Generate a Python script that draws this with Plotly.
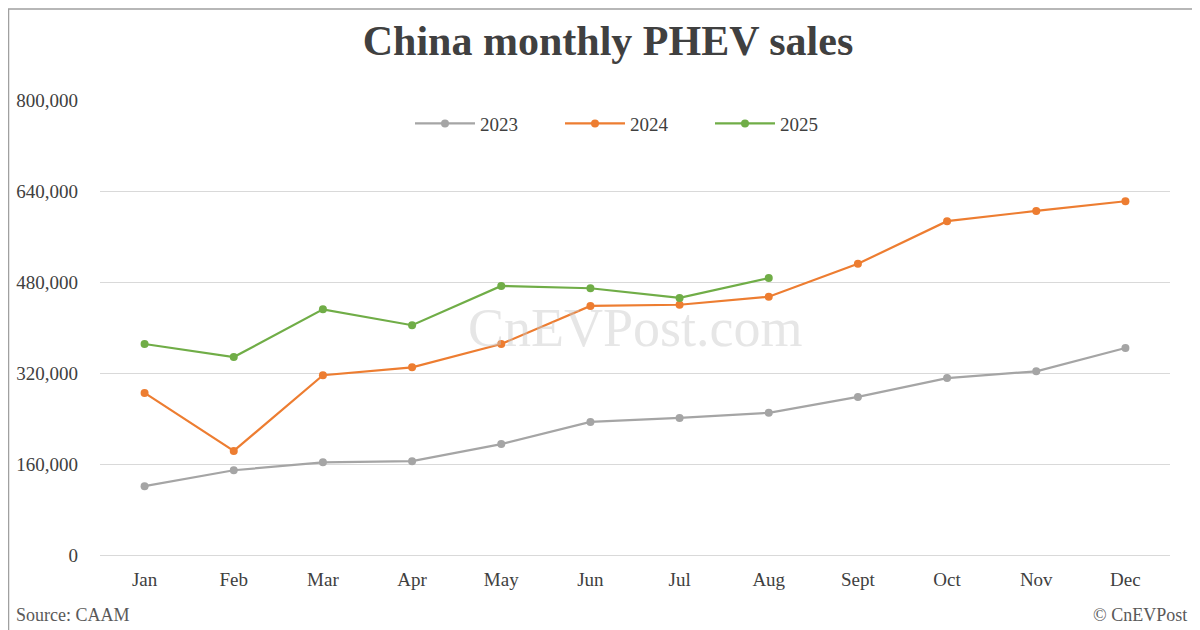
import plotly.graph_objects as go

months = ["Jan","Feb","Mar","Apr","May","Jun","Jul","Aug","Sept","Oct","Nov","Dec"]
s2023 = [121000,149000,163000,165000,195000,234000,241000,250000,278000,311000,323000,364000]
s2024 = [285000,183000,316000,330000,371000,438000,440000,454000,512000,587000,605000,622000]
s2025 = [371000,348000,432000,404000,473000,469000,452000,487000]
tickvals = [0,160000,320000,480000,640000,800000]

fig = go.Figure()
for name, vals, col in [("2023", s2023, "#a5a5a5"), ("2024", s2024, "#ed7d31"), ("2025", s2025, "#70ad47")]:
    fig.add_trace(go.Scatter(x=months[:len(vals)], y=vals, name=name, mode="lines+markers",
                             line=dict(color=col, width=2.2), marker=dict(size=8, color=col)))

fig.update_layout(
    width=1200, height=630, paper_bgcolor="white", plot_bgcolor="white",
    margin=dict(l=92, r=38, t=92, b=83, autoexpand=False),
    font=dict(family="Liberation Serif", size=19, color="#404040"),
    title=dict(text="<b>China monthly PHEV sales</b>", x=0.5, xanchor="center", y=0.949, yanchor="middle",
               font=dict(size=42, color="#404040")),
    legend=dict(orientation="h", x=0.5, xanchor="center", y=0.99, yanchor="top",
                font=dict(size=19), entrywidth=75, itemwidth=60),
    xaxis=dict(type="category", showgrid=False, showline=True, linecolor="#d9d9d9",
               ticks="", range=[-0.5, 11.5], automargin=False, ticklabelstandoff=7),
    yaxis=dict(range=[0, 800000], tickvals=tickvals, tickformat=",", gridcolor="#d9d9d9",
               zeroline=False, ticks="", ticklabelstandoff=21, automargin=False),
    shapes=[dict(type="rect", xref="paper", yref="paper", x0=-0.0855, x1=1.0345, y0=-0.18, y1=1.2,
                 line=dict(color="#a0a0a0", width=1.5))],
    annotations=[
        dict(text="CnEVPost.com", x=0.5, y=0.5, xref="paper", yref="paper", showarrow=False,
             font=dict(size=54, color="rgba(200,200,200,0.45)")),
        dict(text="Source: CAAM", x=-0.08, y=-0.158, xref="paper", yref="paper", xanchor="left",
             yanchor="bottom", showarrow=False, font=dict(size=18, color="#595959")),
        dict(text="© CnEVPost", x=1.018, y=-0.158, xref="paper", yref="paper", xanchor="right",
             yanchor="bottom", showarrow=False, font=dict(size=18, color="#595959")),
    ],
)
fig.write_html("out.html")
